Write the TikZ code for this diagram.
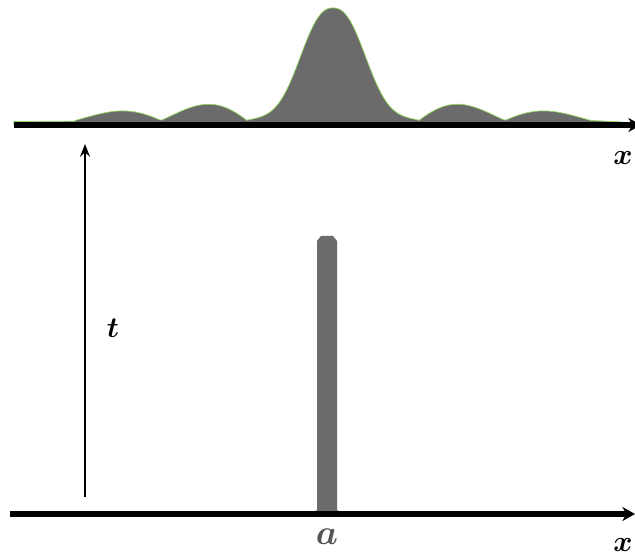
\documentclass[tikz,border=0pt]{standalone}
\usepackage{amsmath,bm}
\usetikzlibrary{arrows.meta,positioning}
\definecolor{lobegray}{HTML}{6B6B6B}
\definecolor{lobeedge}{HTML}{8ED65C}
\definecolor{labelgray}{HTML}{555555}

\begin{document}
\begin{tikzpicture}[x=0.025cm, y=0.025cm, >=Stealth,
  axisline/.style={line width=4.2pt},
  varlabel/.style={inner sep=0pt, font=\fontsize{21}{24}\selectfont}]
  \useasboundingbox (0,0) rectangle (635,557);
  % diffraction pattern on the upper screen
  \filldraw[fill=lobegray, draw=lobeedge, line width=0.5pt]
    (14,432) -- (14,435.5) -- (75,435.8)
    -- plot[domain=-258:-86, samples=90] ({333+\x},{436.5+16*exp((129-abs(\x))/162)*abs(sin(2.093*\x))})
    -- plot[domain=-86:86, samples=120] ({333+\x},{436.5+112.5*exp(-((abs(\x)/41)^2.4))+4*(abs(\x)/86)^2*abs(sin(2.093*\x))})
    -- plot[domain=86:258, samples=90] ({333+\x},{436.5+16*exp((129-abs(\x))/162)*abs(sin(2.093*\x))})
    -- (622,435) -- (622,432) -- cycle;
  % the slit at a
  \fill[lobegray] (317,43) -- (317,316) -- (321,321) -- (333,321) -- (337,316) -- (337,43) -- cycle;
  \fill[lobegray] (311,43) -- (317,47) -- (337,47) -- (343,43) -- cycle;
  % axes
  \coordinate (topleft) at (14,432);
  \coordinate (topright) at (641,432);
  \coordinate (botleft) at (10,43);
  \coordinate (botright) at (635,43);
  \draw[axisline, -{Stealth[length=9pt,width=10pt]}] (topleft) -- (topright);
  \draw[axisline, line width=3.8pt, -{Stealth[length=9pt,width=10pt]}] (botleft) -- (botright);
  % time arrow
  \coordinate (tfoot) at (85,60);
  \coordinate (thead) at (85,413);
  \draw[line width=1.5pt, -{Stealth[length=9pt,width=7pt]}] (tfoot) -- (thead);
  \node[varlabel] (tlabel) at (113,229) {$\bm{t}$};
  \node[varlabel] (xtop) at (623,399) {$\bm{x}$};
  \node[varlabel] (xbot) at (623,12) {$\bm{x}$};
  \node[varlabel, labelgray, font=\fontsize{34}{36}\selectfont] (alabel) at (327,20) {$\bm{a}$};
\end{tikzpicture}
\end{document}
